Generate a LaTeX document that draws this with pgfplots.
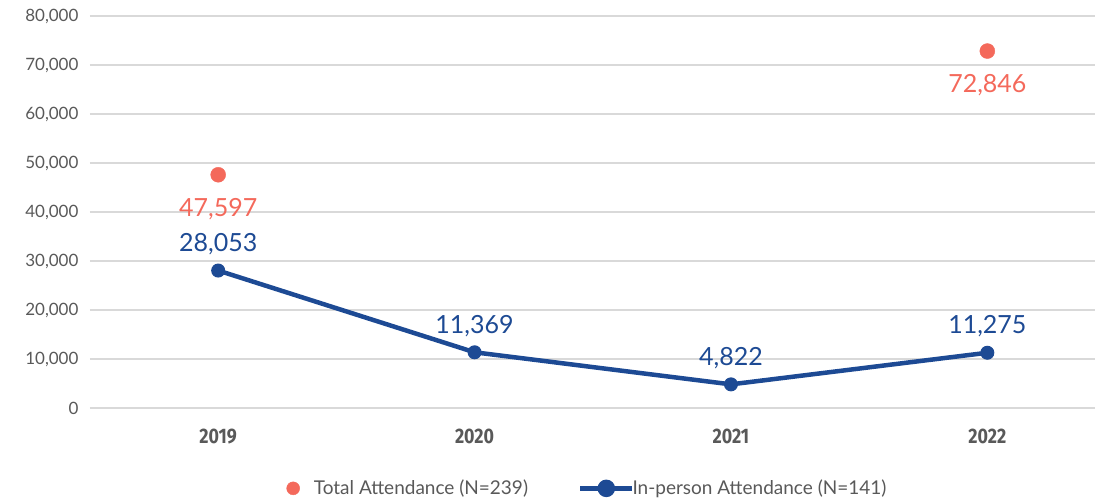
\documentclass[border=0pt]{standalone}
\usepackage{pgfplots}
\pgfplotsset{compat=1.18}
\usepackage{fontspec}
\setmainfont{Lato}
\newfontfamily\yearfont{Fira Sans}
\definecolor{salmon}{HTML}{F4695B}
\definecolor{navy}{HTML}{1D4A94}
\definecolor{tickgray}{HTML}{595959}
\definecolor{gridgray}{HTML}{D9D9D9}
\begin{document}
\begin{tikzpicture}
\begin{axis}[
  name=ax,
  scale only axis,
  width=1005pt, height=392pt,
  xmin=-0.5, xmax=3.42,
  ymin=0, ymax=80000,
  ytick={0,10000,...,80000},
  xtick={0,1,2,3},
  xticklabels={2019,2020,2021,2022},
  x tick label style={font=\yearfont\bfseries\fontsize{21}{24}\selectfont, text=tickgray, yshift=-17pt, xscale=0.85},
  y tick label style={font=\fontsize{17}{20}\selectfont, text=tickgray, xshift=-8pt},
  /pgf/number format/assume math mode=true,
  /pgf/number format/1000 sep={,},
  scaled y ticks=false,
  axis line style={draw=none},
  major tick length=0pt,
  ymajorgrids,
  grid style={gridgray, line width=1.3pt},
  clip=false,
  legend columns=2,
  legend style={draw=none, at={(0.495,-0.205)}, anchor=center, font=\fontsize{19}{22}\selectfont, text=tickgray, /tikz/every even column/.append style={column sep=48pt}},
  legend cell align=left,
  nodes near coords={\pgfmathprintnumber[fixed,precision=0,1000 sep={,}]{\pgfplotspointmeta}},
  every node near coord/.append style={font=\fontsize{25}{28}\selectfont},
]
\addplot[only marks, mark=*, mark size=7.5pt, color=salmon,
  legend image code/.code={\fill[salmon] (12pt,0pt) circle (6.5pt);},
  every node near coord/.append style={anchor=north, yshift=-20pt, text=salmon}]
  coordinates {(0,47597) (3,72846)};
\addlegendentry{\hspace{12pt}Total Attendance (N=239)}
\addplot[navy, line width=4.5pt, mark=*, mark size=6.5pt, mark options={line width=1pt},
  legend image code/.code={\draw[navy, line width=4.5pt] (0pt,0pt) -- (52pt,0pt); \fill[navy] (26pt,0pt) circle (6.5pt);},
  every node near coord/.append style={anchor=south, yshift=12pt, text=navy}]
  coordinates {(0,28053) (1,11369) (2,4822) (3,11275)};
\addlegendentry{\hspace{-4pt}In-person Attendance (N=141)}
\end{axis}
\path (ax.south west) ++(-90pt,-95pt) rectangle ++(1107pt,503pt);
\end{tikzpicture}
\end{document}
